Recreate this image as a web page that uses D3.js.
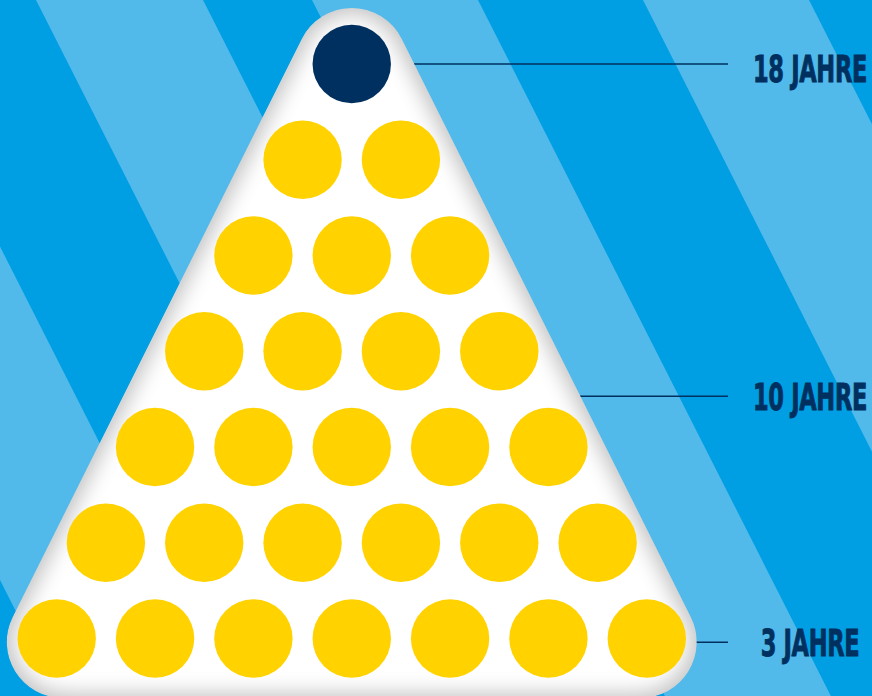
<!DOCTYPE html>
<html><head><meta charset="utf-8">
<script src="https://cdn.jsdelivr.net/npm/d3@7"></script>
<style>html,body{margin:0;padding:0;background:#009fe3;overflow:hidden}</style>
</head><body>
<svg id="chart" width="872" height="696"></svg>
<script>
// ---- data ----
const rowCounts = [1, 2, 3, 4, 5, 6, 7];      // dots per row, top to bottom
const highlightCount = 1;                      // first dot is highlighted (navy)
const labelTexts = ["18 JAHRE", "10 JAHRE", "3 JAHRE"];
const labelRows = [0, 3.47, 6.04];             // leader-line position in row units
const textRows = [0.04, 3.47, 6.04];           // label position in row units

// ---- setup ----
const W = 872, H = 696;
const svg = d3.select("#chart");
const COLORS = {dark: "#009fe3", light: "#52b9eb", navy: "#00305f", yellow: "#ffd200", edge: "#c4c4c4"};
const y = d3.scaleLinear().domain([0, 6]).range([64, 638.5]);
const x = d3.scaleLinear().domain([-3, 3]).range([56.7, 646.8]);
const r = 39.2;

// background stripes
svg.append("rect").attr("width", W).attr("height", H).attr("fill", COLORS.dark);
const slope = 0.507;
const lightBands = [[-294, -125], [36, 203], [312, 478], [643, 809]];
svg.selectAll("path.band").data(lightBands).join("path").attr("class", "band")
  .attr("d", d => `M${d[0]},0L${d[1]},0L${d[1] + slope * H},${H}L${d[0] + slope * H},${H}Z`)
  .attr("fill", COLORS.light);

// leader lines
svg.selectAll("line.lead").data(labelRows).join("line").attr("class", "lead")
  .attr("x1", x(0)).attr("x2", 728)
  .attr("y1", d => y(d)).attr("y2", d => y(d))
  .attr("stroke", COLORS.navy).attr("stroke-width", 1.5);

// rounded triangle
const s5 = Math.sqrt(5);
const nL = [-2 / s5, -1 / s5], nR = [2 / s5, -1 / s5];
const C0 = [x(0), y(0)], R0 = 56;
const cL = nL[0] * C0[0] + nL[1] * C0[1] + R0;
const B = 698, R1 = 56;
const cy1 = B - R1;
const cx1 = (cL - R1 - nL[1] * cy1) / nL[0];
const C1 = [cx1, cy1], C2 = [2 * C0[0] - cx1, cy1];
const pt = (C, R, n) => [C[0] + R * n[0], C[1] + R * n[1]];
const a = pt(C0, R0, nL), b = pt(C1, R1, nL), c = pt(C1, R1, [0, 1]),
      dd = pt(C2, R1, [0, 1]), e = pt(C2, R1, nR), f = pt(C0, R0, nR);
const triPath = `M${a}L${b}A${R1},${R1} 0 0 0 ${c}L${dd}A${R1},${R1} 0 0 0 ${e}L${f}A${R0},${R0} 0 0 0 ${a}Z`;

const defs = svg.append("defs");
defs.append("clipPath").attr("id", "triClip").append("path").attr("d", triPath);
const flt = defs.append("filter").attr("id", "soft")
  .attr("x", "-10%").attr("y", "-10%").attr("width", "120%").attr("height", "120%");
flt.append("feMorphology").attr("operator", "erode").attr("radius", 5);
flt.append("feGaussianBlur").attr("stdDeviation", 10);

const tri = svg.append("g").attr("clip-path", "url(#triClip)");
tri.append("path").attr("d", triPath).attr("fill", COLORS.edge);
tri.append("path").attr("d", triPath).attr("fill", "#fff").attr("filter", "url(#soft)");

// dots
const dots = [];
let idx = 0;
rowCounts.forEach((n, row) => {
  for (let j = 0; j < n; j++) {
    dots.push({row, off: j - (n - 1) / 2, hi: idx < highlightCount});
    idx++;
  }
});
svg.selectAll("circle.dot").data(dots).join("circle").attr("class", "dot")
  .attr("cx", d => x(d.off)).attr("cy", d => y(d.row)).attr("r", r)
  .attr("fill", d => d.hi ? COLORS.navy : COLORS.yellow);

// labels
const lbl = svg.selectAll("text.lbl").data(labelTexts).join("text").attr("class", "lbl")
  .attr("text-anchor", "middle")
  .attr("font-family", "'DejaVu Sans Condensed', 'DejaVu Sans', sans-serif")
  .attr("font-weight", "bold").attr("font-size", 38)
  .attr("fill", COLORS.navy).attr("stroke", COLORS.navy).attr("stroke-width", 0.9)
  .attr("letter-spacing", -0.5)
  .text(d => d);
const w0 = lbl.node().getComputedTextLength();
const k = 114 / w0;
lbl.attr("transform", (d, i) => `translate(810,${y(textRows[i]) + 13.8}) scale(${k},1)`);
</script>
</body></html>
